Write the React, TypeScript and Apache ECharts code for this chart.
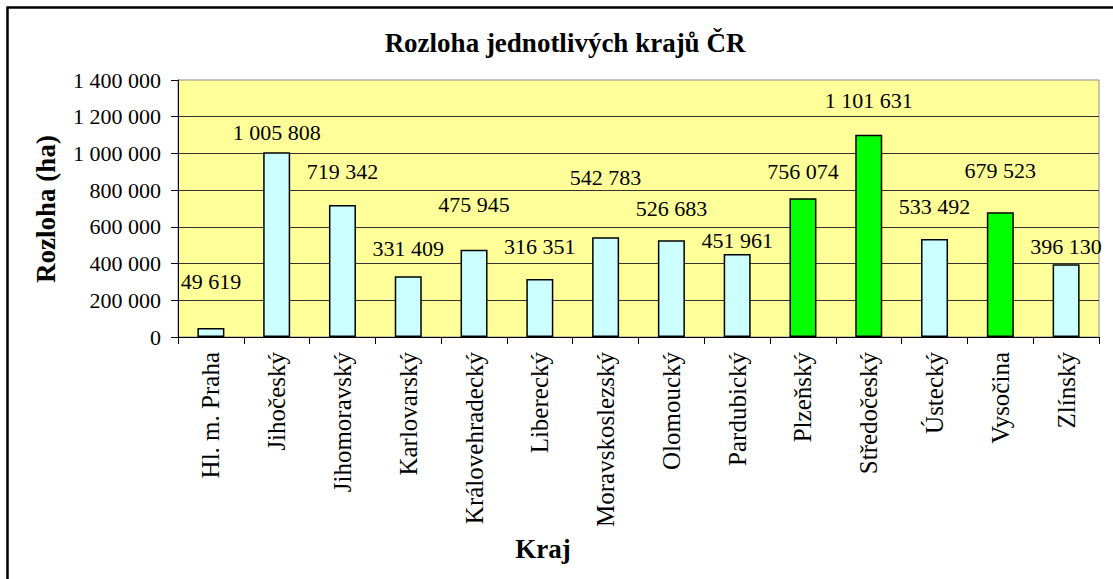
import React, { useEffect, useRef } from "react";
import * as echarts from "echarts";

const categories = [
  "Hl. m. Praha",
  "Jihočeský",
  "Jihomoravský",
  "Karlovarský",
  "Královehradecký",
  "Liberecký",
  "Moravskoslezský",
  "Olomoucký",
  "Pardubický",
  "Plzeňský",
  "Středočeský",
  "Ústecký",
  "Vysočina",
  "Zlínský",
];
const areas = [49619, 1005808, 719342, 331409, 475945, 316351, 542783, 526683, 451961, 756074, 1101631, 533492, 679523, 396130];
const highlighted = ["Plzeňský", "Středočeský", "Vysočina"];
const yMin = 0;
const yMax = 1400000;
const yStep = 200000;
const titleText = "Rozloha jednotlivých krajů ČR";
const yName = "Rozloha (ha)";
const xName = "Kraj";

// styling: how far each value label sits above its bar (manually placed in the original)
const labelLift = [46, 20, 33, 28, 45, 32, 60, 32, 14, 27, 34, 33, 42, 18];

const FONT = "'Liberation Serif', 'Times New Roman', serif";
const fmt = (n: number) => String(Math.round(n)).replace(/\B(?=(\d{3})+(?!\d))/g, " ");

export default function App() {
  const ref = useRef<HTMLDivElement>(null);
  useEffect(() => {
    if (!ref.current) return;
    const chart = echarts.init(ref.current, undefined, { renderer: "svg" });
    const data = areas.map((v, i) => ({
      value: v,
      itemStyle: {
        color: highlighted.includes(categories[i]) ? "#00FF00" : "#CCFFFF",
      },
      label: { distance: labelLift[i] },
    }));
    chart.setOption({
      animation: false,
      backgroundColor: "#ffffff",
      textStyle: { fontFamily: FONT, color: "#000" },
      grid: {
        left: 178,
        right: 14,
        top: 80,
        bottom: 242,
        show: true,
        backgroundColor: "#FFFF99",
        borderColor: "#8c8c8c",
        borderWidth: 1,
        containLabel: false,
      },
      xAxis: {
        type: "category",
        data: categories,
        boundaryGap: true,
        axisLine: { show: true, lineStyle: { color: "#000", width: 1 } },
        axisTick: { show: true, length: 7, lineStyle: { color: "#000" } },
        axisLabel: {
          rotate: 90,
          margin: 15,
          fontFamily: FONT,
          fontSize: 25,
          color: "#000",
          interval: 0,
        },
        splitLine: { show: false },
      },
      yAxis: {
        type: "value",
        min: yMin,
        max: yMax,
        interval: yStep,
        axisLine: { show: true, lineStyle: { color: "#000", width: 1 } },
        axisTick: { show: true, length: 7, lineStyle: { color: "#000" } },
        axisLabel: {
          margin: 17,
          fontFamily: FONT,
          fontSize: 22,
          color: "#000",
          formatter: (v: number) => fmt(v),
        },
        splitLine: { show: true, showMaxLine: false, lineStyle: { color: "#333", width: 1 } },
      },
      series: [
        {
          type: "bar",
          data,
          barWidth: 27,
          itemStyle: { borderColor: "#000", borderWidth: 1.5 },
          label: {
            show: true,
            position: "top",
            verticalAlign: "middle",
            fontFamily: FONT,
            fontSize: 22,
            color: "#000",
            formatter: (p: any) => fmt(p.value),
          },
        },
      ],
      graphic: [
        {
          type: "rect",
          shape: { x: 7.5, y: 7.5, width: 1300, height: 800 },
          style: { fill: "none", stroke: "#000", lineWidth: 2.5 },
          silent: true,
          z: 100,
        },
        {
          type: "text",
          x: 565,
          y: 43,
          style: {
            text: titleText,
            font: `bold 27px ${FONT}`,
            fill: "#000",
            textAlign: "center",
            textVerticalAlign: "middle",
          },
        },
        {
          type: "text",
          x: 46,
          y: 209,
          rotation: Math.PI / 2,
          style: {
            text: yName,
            font: `bold 27px ${FONT}`,
            fill: "#000",
            textAlign: "center",
            textVerticalAlign: "middle",
          },
        },
        {
          type: "text",
          x: 543,
          y: 549,
          style: {
            text: xName,
            font: `bold 27px ${FONT}`,
            fill: "#000",
            textAlign: "center",
            textVerticalAlign: "middle",
          },
        },
      ],
    });
    return () => chart.dispose();
  }, []);
  return (
    <div
      ref={ref}
      style={{ position: "fixed", left: 0, top: 0, width: 1113, height: 579 }}
    />
  );
}
